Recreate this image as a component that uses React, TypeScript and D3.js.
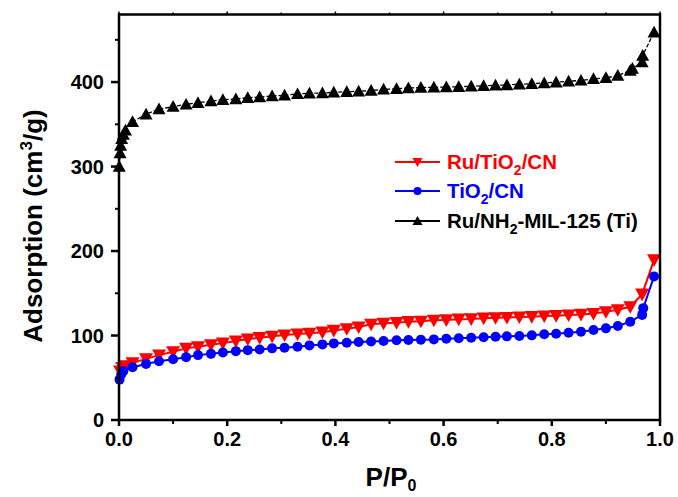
import React from "react";
import * as d3 from "d3";

const ruTiX = [0.002, 0.006, 0.012, 0.025, 0.05, 0.074, 0.1, 0.124, 0.146, 0.17, 0.192, 0.216, 0.238, 0.26, 0.283, 0.306, 0.33, 0.352, 0.376, 0.397, 0.421, 0.443, 0.466, 0.489, 0.513, 0.535, 0.558, 0.582, 0.605, 0.628, 0.651, 0.674, 0.696, 0.717, 0.74, 0.763, 0.786, 0.808, 0.831, 0.854, 0.877, 0.9, 0.922, 0.945, 0.967, 0.989];
const ruTiY = [58, 62, 64, 67.6, 72.4, 76.8, 80.7, 84.8, 86.7, 89, 91, 93.5, 95.8, 97.4, 99, 100.6, 101.8, 102.6, 104, 106, 108, 110, 113.3, 114.5, 115.2, 116.4, 116.9, 118, 118.5, 119.3, 119.6, 120.5, 121, 121.3, 121.8, 122.3, 123, 123.5, 124.2, 125, 126, 128, 130.5, 134, 149, 189.5];

const tiX = [0.001, 0.004, 0.008, 0.025, 0.05, 0.074, 0.1, 0.124, 0.146, 0.17, 0.192, 0.216, 0.238, 0.26, 0.283, 0.306, 0.33, 0.352, 0.376, 0.397, 0.421, 0.443, 0.466, 0.489, 0.513, 0.535, 0.558, 0.582, 0.605, 0.628, 0.651, 0.674, 0.696, 0.717, 0.74, 0.763, 0.786, 0.808, 0.831, 0.854, 0.877, 0.9, 0.922, 0.945, 0.967, 0.969, 0.989];
const tiY = [47.8, 53.8, 57.7, 62.5, 66.4, 69.6, 72, 74.4, 76.8, 78.3, 80, 81.5, 82.7, 83.5, 84.8, 85.5, 86.7, 88.3, 89.5, 90.7, 91.4, 92.3, 93, 93.5, 94.3, 94.6, 95, 95.4, 96.2, 96.7, 97.4, 98, 98.5, 99, 99.5, 100.2, 101.4, 102.1, 103.3, 104.5, 106.5, 108.5, 111.3, 116.4, 124.4, 132.4, 170];

const milX = [0.0005, 0.002, 0.003, 0.005, 0.008, 0.012, 0.025, 0.05, 0.074, 0.1, 0.124, 0.146, 0.17, 0.192, 0.216, 0.238, 0.26, 0.283, 0.306, 0.33, 0.352, 0.376, 0.397, 0.421, 0.443, 0.466, 0.489, 0.513, 0.535, 0.558, 0.582, 0.605, 0.628, 0.651, 0.674, 0.696, 0.717, 0.74, 0.763, 0.786, 0.808, 0.831, 0.854, 0.877, 0.9, 0.922, 0.945, 0.949, 0.967, 0.968, 0.989];
const milY = [300, 316, 325, 333, 338, 343, 353, 362, 368, 371, 373.6, 375.6, 377.6, 379, 380, 381.5, 382.4, 383.5, 384.4, 386, 386.7, 387, 388, 388.5, 389.2, 390, 391.4, 392.1, 393, 393.5, 393.8, 394.2, 394.5, 395.1, 395.6, 396.2, 396.6, 397.4, 398, 399, 399.8, 401, 402, 403.8, 405, 407.7, 413.7, 416, 423.6, 431.5, 459];

const xTicks = [0, 0.2, 0.4, 0.6, 0.8, 1.0];
const xMinor = [0.1, 0.3, 0.5, 0.7, 0.9];
const yTicks = [0, 100, 200, 300, 400];
const yMinor = [50, 150, 250, 350, 450];

const W = 678, H = 497;
const L = 119, R = 660, T = 14.5, B = 420;
const FONT = "'Liberation Sans', Arial, Helvetica, sans-serif";

export default function App() {
  const x = d3.scaleLinear().domain([0, 1]).range([L, R]);
  const y = d3.scaleLinear().domain([0, 480]).range([B, T]);

  const mk = (xs: number[], ys: number[]) => xs.map((v, i) => [v, ys[i]] as [number, number]);
  const line = d3.line<[number, number]>().x(d => x(d[0])).y(d => y(d[1]));

  const ruTi = mk(ruTiX, ruTiY);
  const ti = mk(tiX, tiY);
  const mil = mk(milX, milY);

  const triUp = (cx: number, cy: number, s = 6.5) => `M${cx},${cy - s}L${cx + s},${cy + s * 0.8}L${cx - s},${cy + s * 0.8}Z`;
  const triDown = (cx: number, cy: number, s = 7) => `M${cx},${cy + s}L${cx + s},${cy - s * 0.8}L${cx - s},${cy - s * 0.8}Z`;

  const legend = [
    { color: "#ff0000", kind: "down", yy: 162, parts: [["Ru/TiO", false], ["2", true], ["/CN", false]] },
    { color: "#0000ff", kind: "circle", yy: 191, parts: [["TiO", false], ["2", true], ["/CN", false]] },
    { color: "#000000", kind: "up", yy: 221, parts: [["Ru/NH", false], ["2", true], ["-MIL-125 (Ti)", false]] },
  ];

  return (
    <svg width={W} height={H} style={{ position: "absolute", left: 0, top: 0, background: "#fff" }} fontFamily={FONT}>
      <rect x={0} y={0} width={W} height={H} fill="#fff" />
      {/* series */}
      <path d={line(mil) || ""} fill="none" stroke="#000" strokeWidth={1.3} strokeDasharray="4,2" />
      {mil.map((d, i) => <path key={"m" + i} d={triUp(x(d[0]), y(d[1]))} fill="#000" />)}
      <path d={line(ruTi) || ""} fill="none" stroke="#ff0000" strokeWidth={2} />
      {ruTi.map((d, i) => <path key={"r" + i} d={triDown(x(d[0]), y(d[1]))} fill="#ff0000" />)}
      <path d={line(ti) || ""} fill="none" stroke="#0000ff" strokeWidth={2} />
      {ti.map((d, i) => <circle key={"t" + i} cx={x(d[0])} cy={y(d[1])} r={5} fill="#0000ff" />)}

      {/* frame */}
      <rect x={L} y={T} width={R - L} height={B - T} fill="none" stroke="#000" strokeWidth={2.5} />
      {/* x ticks */}
      {xTicks.map(t => <line key={"xt" + t} x1={x(t)} x2={x(t)} y1={B} y2={B + 6} stroke="#000" strokeWidth={2.5} />)}
      {xMinor.map(t => <line key={"xm" + t} x1={x(t)} x2={x(t)} y1={B} y2={B + 4} stroke="#000" strokeWidth={2} />)}
      {xTicks.map(t => <line key={"xtt" + t} x1={x(t)} x2={x(t)} y1={T} y2={T - 3} stroke="#000" strokeWidth={1.5} />)}
      {xMinor.map(t => <line key={"xtm" + t} x1={x(t)} x2={x(t)} y1={T} y2={T - 2} stroke="#000" strokeWidth={1.5} />)}
      {xTicks.map(t => (
        <text key={"xl" + t} x={x(t)} y={B + 26} textAnchor="middle" fontSize={20} fontWeight="bold">{d3.format(".1f")(t)}</text>
      ))}
      {/* y ticks */}
      {yTicks.map(t => <line key={"yt" + t} x1={L - 8} x2={L} y1={y(t)} y2={y(t)} stroke="#000" strokeWidth={2.5} />)}
      {yMinor.map(t => <line key={"ym" + t} x1={L - 4} x2={L} y1={y(t)} y2={y(t)} stroke="#000" strokeWidth={2} />)}
      {yTicks.map(t => (
        <text key={"yl" + t} x={L - 15} y={y(t) + 7} textAnchor="end" fontSize={20} fontWeight="bold">{t}</text>
      ))}
      {/* axis titles */}
      <text x={391} y={486} textAnchor="middle" fontSize={26} fontWeight="bold">
        P/P<tspan fontSize={16} dy={5}>0</tspan>
      </text>
      <text transform={`translate(42,226) rotate(-90)`} textAnchor="middle" fontSize={26} fontWeight="bold">
        Adsorption (cm<tspan fontSize={17} dy={-10}>3</tspan><tspan dy={10}>/g)</tspan>
      </text>
      {/* legend */}
      {legend.map((l, i) => (
        <g key={"lg" + i}>
          <line x1={395} x2={440} y1={l.yy} y2={l.yy} stroke={l.color} strokeWidth={2} />
          {l.kind === "down" && <path d={triDown(417.5, l.yy, 5)} fill={l.color} />}
          {l.kind === "circle" && <circle cx={417.5} cy={l.yy} r={4} fill={l.color} />}
          {l.kind === "up" && <path d={triUp(417.5, l.yy, 5)} fill={l.color} />}
          <text x={447} y={l.yy + 7} fontSize={20.5} fontWeight="bold" fill={l.color}>
            {l.parts.map((p, j) => (
              <tspan key={j} fontSize={p[1] ? 14 : 20.5} dy={p[1] ? 6 : (j > 0 && l.parts[j - 1][1] ? -6 : 0)}>{p[0] as string}</tspan>
            ))}
          </text>
        </g>
      ))}
    </svg>
  );
}
